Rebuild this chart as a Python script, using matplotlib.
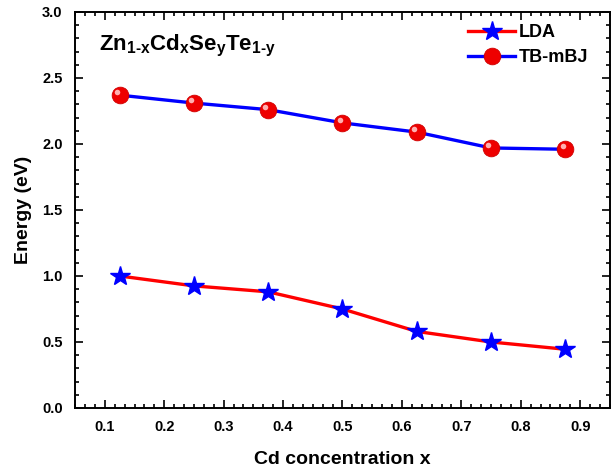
import matplotlib
matplotlib.use("Agg")
import matplotlib.pyplot as plt
import matplotlib.transforms as mtransforms
from matplotlib.ticker import MultipleLocator, AutoMinorLocator

# Cd concentration and band gaps (eV)
cd_x = [0.125, 0.25, 0.375, 0.5, 0.625, 0.75, 0.875]
lda = [1.00, 0.925, 0.88, 0.75, 0.58, 0.50, 0.445]
tb_mbj = [2.37, 2.31, 2.26, 2.16, 2.09, 1.97, 1.96]

plt.rcParams["font.family"] = ["Liberation Sans", "DejaVu Sans"]
plt.rcParams["font.weight"] = "bold"
plt.rcParams["mathtext.fontset"] = "custom"
plt.rcParams["mathtext.rm"] = "Liberation Sans:bold"
plt.rcParams["mathtext.bf"] = "Liberation Sans:bold"
plt.rcParams["mathtext.it"] = "Liberation Sans:bold"

fig = plt.figure(figsize=(6.16, 4.72), dpi=100)
ax = fig.add_axes([0.122, 0.1356, 0.868, 0.839])

ax.plot(cd_x, lda, color="#ff0000", lw=2.4, marker="*", ms=15,
        mfc="#0000ff", mec="#0000ff", label="LDA", zorder=3)
ax.plot(cd_x, tb_mbj, color="#0000ff", lw=2.4, marker="o", ms=12,
        mfc="#ee0000", mec="#d00000", mew=0.6, label="TB-mBJ", zorder=3)
# small highlight on the spheres, nudged up-left
shift = mtransforms.offset_copy(ax.transData, fig=fig, x=-2, y=2, units="points")
ax.plot(cd_x, tb_mbj, ls="none", marker="o", ms=4, mfc="#ffb0b0",
        mec="none", zorder=4, transform=shift)

ax.set_xlim(0.05, 0.95)
ax.set_ylim(0.0, 3.0)
ax.xaxis.set_major_locator(MultipleLocator(0.1))
ax.xaxis.set_minor_locator(AutoMinorLocator(6))
ax.yaxis.set_major_locator(MultipleLocator(0.5))
ax.yaxis.set_minor_locator(AutoMinorLocator(5))
ax.tick_params(which="both", direction="in", top=True, right=True, width=1.2)
ax.tick_params(which="major", length=6, labelsize=10.5, pad=9)
ax.tick_params(which="minor", length=3)
for s in ax.spines.values():
    s.set_linewidth(1.4)

ax.set_xlabel("Cd concentration x", fontsize=14, fontweight="bold", labelpad=12)
ax.set_ylabel("Energy (eV)", fontsize=14, fontweight="bold", labelpad=7)

ax.text(0.045, 0.915, "$\\mathbf{Zn_{1\u2010x}Cd_xSe_yTe_{1\u2010y}}$",
        transform=ax.transAxes, fontsize=16, va="center", ha="left")

ax.legend(loc="upper right", frameon=False, handlelength=2.6,
          handletextpad=0.2, bbox_to_anchor=(0.99, 1.01),
          labelspacing=0.45, prop={"weight": "bold", "size": 13})

fig.savefig("out.png", dpi=100)
